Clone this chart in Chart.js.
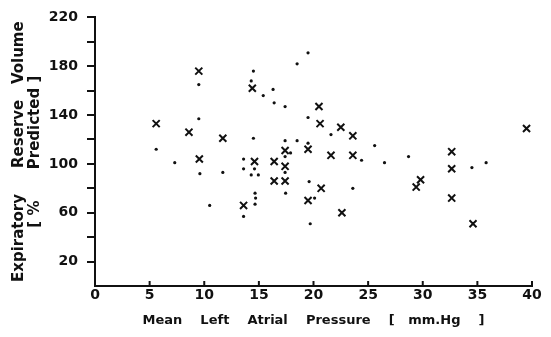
<!DOCTYPE html>
<html>
<head>
<meta charset="utf-8">
<script src="https://cdn.jsdelivr.net/npm/chart.js@4.4.1/dist/chart.umd.min.js"></script>
<style>
  html, body { margin: 0; padding: 0; background: #fff; }
</style>
</head>
<body>
<canvas id="lapChart" width="551" height="337"></canvas>
<script>
// mean left atrial pressure [mm Hg] vs expiratory reserve volume [% predicted]
// "x" points
const crossX = [5.6, 8.6, 9.5, 9.55, 11.7, 13.6, 14.4, 14.6, 16.4, 16.4, 17.4, 17.4, 17.4, 19.5, 19.5,
  20.5, 20.6, 20.7, 21.6, 22.5, 22.6, 23.6, 23.6, 29.4, 29.8, 32.65, 32.65, 32.65, 34.6, 39.5];
const crossY = [133, 126, 176, 104, 121, 66, 162, 102, 102, 86, 111, 98, 86, 112, 70,
  147, 133, 80, 107, 130, 60, 123, 107, 81, 87, 110, 96, 72, 51, 129];

// dot points
const dotX = [5.6, 7.3, 9.5, 9.5, 9.6, 10.5, 11.7, 13.6, 13.6, 13.6, 14.3, 14.5, 14.5, 14.6, 14.3,
  14.95, 14.65, 14.7, 14.65, 15.4, 16.3, 16.4, 17.4, 17.4, 17.4, 17.4, 17.45, 17.9, 18.5, 18.5,
  19.5, 19.5, 19.5, 19.6, 19.7, 20.1, 21.6, 23.6, 24.4, 25.6, 26.5, 28.7, 34.5, 35.8];
const dotY = [112, 101, 165, 137, 92, 66, 93, 104, 96, 57, 168, 176, 121, 96, 91,
  91, 76, 72, 67, 156, 161, 150, 147, 119, 106, 93, 76, 109, 182, 119,
  191, 138, 117, 85.5, 51, 72, 124, 80, 103, 115, 101, 106, 97, 101];

const xTicks = [0, 5, 10, 15, 20, 25, 30, 35, 40];
const yTicks = [0, 20, 40, 60, 80, 100, 120, 140, 160, 180, 200, 220];
const yLabels = [20, 60, 100, 140, 180, 220];

const ink = "#111";
const fontFam = "'DejaVu Sans', Verdana, sans-serif";

// x ticks in the original point up into the plot
const upTicks = {
  id: "upTicks",
  afterDraw(chart) {
    const sx = chart.scales.x;
    const y0 = chart.chartArea.bottom;
    const ctx = chart.ctx;
    ctx.save();
    ctx.strokeStyle = ink;
    ctx.lineWidth = 2;
    sx.ticks.forEach((t) => {
      if (t.value === 0) return;
      const px = sx.getPixelForValue(t.value);
      ctx.beginPath();
      ctx.moveTo(px, y0);
      ctx.lineTo(px, y0 - 5);
      ctx.stroke();
    });
    ctx.restore();
  }
};

new Chart(document.getElementById("lapChart"), {
  type: "scatter",
  data: {
    datasets: [
      {
        label: "x",
        data: crossX.map((x, i) => ({ x: x, y: crossY[i] })),
        pointStyle: "crossRot",
        pointRadius: 5,
        borderWidth: 2,
        borderColor: ink,
        backgroundColor: ink
      },
      {
        label: "dot",
        data: dotX.map((x, i) => ({ x: x, y: dotY[i] })),
        pointStyle: "circle",
        pointRadius: 1.6,
        borderWidth: 0,
        backgroundColor: ink
      }
    ]
  },
  plugins: [upTicks],
  options: {
    responsive: false,
    animation: false,
    layout: { padding: { left: 0, right: 19, top: 15, bottom: 0 } },
    plugins: {
      legend: { display: false },
      tooltip: { enabled: false }
    },
    scales: {
      x: {
        type: "linear",
        min: 0,
        max: 40,
        afterBuildTicks: (s) => { s.ticks = xTicks.map((v) => ({ value: v })); },
        afterFit: (s) => { s.height = 51; },
        grid: { display: true, drawOnChartArea: false, drawTicks: false },
        border: { display: true, color: ink, width: 2 },
        ticks: {
          color: ink,
          padding: 1,
          maxRotation: 0,
          font: { family: fontFam, size: 14, weight: "bold" }
        },
        title: {
          display: true,
          text: "Mean    Left    Atrial    Pressure    [   mm.Hg    ]",
          color: ink,
          padding: { top: 0, bottom: 9 },
          font: { family: fontFam, size: 13, weight: "bold", lineHeight: 1.15 }
        }
      },
      y: {
        type: "linear",
        min: 0,
        max: 220,
        afterBuildTicks: (s) => { s.ticks = yTicks.map((v) => ({ value: v })); },
        afterFit: (s) => { s.width = 95; },
        grid: {
          display: true,
          drawOnChartArea: false,
          drawTicks: true,
          tickLength: 8,
          lineWidth: 2,
          color: (c) => (c.tick && c.tick.value === 0 ? "rgba(0,0,0,0)" : ink)
        },
        border: { display: true, color: ink, width: 2 },
        ticks: {
          color: ink,
          padding: 9,
          font: { family: fontFam, size: 14, weight: "bold" },
          callback: (v) => (yLabels.includes(v) ? String(v) : "")
        },
        title: {
          display: true,
          text: ["Expiratory     Reserve   Volume", "[ %      Predicted ]"],
          color: ink,
          padding: { top: 11, bottom: 0 },
          font: { family: fontFam, size: 15, weight: "bold", lineHeight: 1.07 }
        }
      }
    }
  }
});
</script>
</body>
</html>
